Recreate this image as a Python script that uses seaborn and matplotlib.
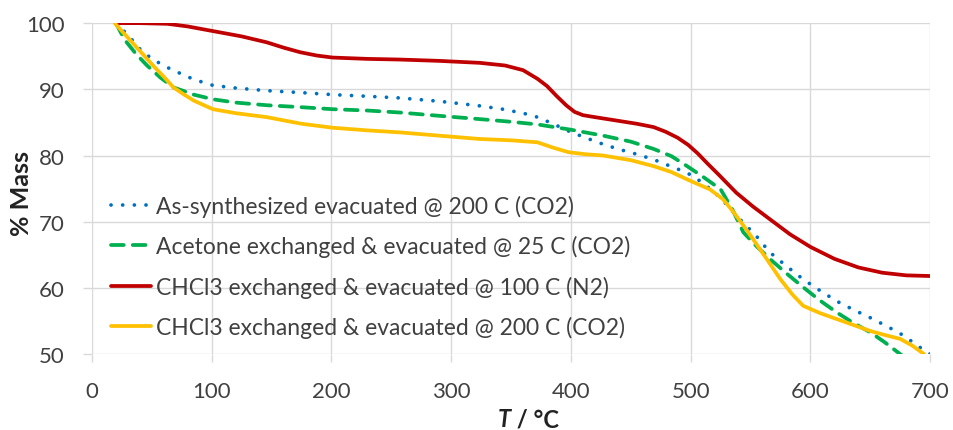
import matplotlib
matplotlib.use("Agg")
import matplotlib.pyplot as plt
import pandas as pd
import seaborn as sns

sns.set_theme(style="white")
plt.rcParams["font.family"] = ["Lato", "DejaVu Sans"]

TEXT = "#404040"
GRID = "#d9d9d9"

# thermogravimetric curves
as_syn_t = [20, 30, 40, 50, 63, 75, 85, 101, 120, 146, 175, 201, 230, 257, 290, 324, 343, 360,
            372, 385, 398, 412, 427, 441, 455, 469, 483, 497, 510, 525, 541, 555, 566, 580,
            594, 608, 622, 636, 650, 664, 678, 690, 700]
as_syn_m = [100, 98.2, 96.1, 94.6, 93.3, 92.3, 91.5, 90.6, 90.2, 89.8, 89.5, 89.2, 88.95, 88.7,
            88.2, 87.5, 87.0, 86.4, 85.8, 84.8, 83.7, 82.7, 81.7, 80.9, 80.2, 79.4, 78.4, 77.4,
            75.9, 73.6, 70.4, 67.8, 65.4, 63.3, 61.3, 59.6, 58.0, 56.7, 55.5, 54.2, 52.8, 51.2, 50.0]

acetone_t = [20, 24, 29, 37, 46, 57, 68, 85, 101, 120, 146, 175, 201, 230, 257, 290, 324, 350,
             372, 400, 427, 450, 469, 484, 497, 511, 525, 535, 544, 555, 566, 580, 594, 608,
             622, 636, 650, 662, 675, 685]
acetone_m = [100, 98.6, 97.1, 95.3, 93.6, 91.8, 90.3, 89.2, 88.5, 88.0, 87.6, 87.3, 87.0, 86.8,
             86.5, 86.0, 85.5, 85.1, 84.7, 83.9, 83.0, 82.1, 81.0, 79.9, 78.4, 76.7, 74.9,
             71.8, 68.4, 66.3, 64.4, 62.2, 60.1, 58.1, 56.3, 54.7, 53.3, 51.8, 50.0, 48.6]

chcl3_n2_t = [20, 40, 63, 80, 101, 125, 146, 160, 174, 188, 201, 230, 257, 290, 324, 345, 360,
              372, 380, 388, 396, 403, 410, 420, 441, 455, 469, 479, 489, 498, 506, 514, 524,
              538, 552, 566, 583, 600, 620, 640, 660, 680, 700]
chcl3_n2_m = [100, 100, 99.9, 99.5, 98.8, 98.0, 97.1, 96.3, 95.6, 95.1, 94.8, 94.6, 94.5, 94.3,
              94.0, 93.6, 92.9, 91.6, 90.5, 89.0, 87.6, 86.6, 86.1, 85.8, 85.2, 84.8, 84.3,
              83.6, 82.7, 81.6, 80.3, 78.8, 77.0, 74.4, 72.3, 70.4, 68.1, 66.2, 64.4, 63.1,
              62.3, 61.9, 61.8]

chcl3_co2_t = [19, 27, 35, 43, 51, 60, 68, 77, 85, 101, 120, 146, 175, 201, 230, 257, 290, 324,
               350, 372, 385, 398, 412, 427, 450, 469, 484, 497, 507, 516, 527, 536, 545, 552,
               563, 575, 585, 594, 608, 622, 636, 650, 662, 675, 685, 695]
chcl3_co2_m = [100, 98.4, 96.8, 95.2, 93.6, 91.9, 90.3, 89.2, 88.3, 87.0, 86.4, 85.8, 84.8,
               84.2, 83.8, 83.5, 83.0, 82.5, 82.3, 82.0, 81.2, 80.5, 80.2, 80.0, 79.3, 78.4,
               77.5, 76.4, 75.6, 74.9, 73.4, 71.4, 69.2, 67.4, 64.5, 61.3, 59.0, 57.3, 56.2,
               55.3, 54.4, 53.5, 52.9, 52.3, 51.3, 50.0]

labels = ["As-synthesized evacuated @ 200 C (CO2)",
          "Acetone exchanged & evacuated @ 25 C (CO2)",
          "CHCl3 exchanged & evacuated @ 100 C (N2)",
          "CHCl3 exchanged & evacuated @ 200 C (CO2)"]
colors = ["#0070C0", "#00B050", "#C00000", "#FFC000"]

series = [(as_syn_t, as_syn_m), (acetone_t, acetone_m), (chcl3_n2_t, chcl3_n2_m), (chcl3_co2_t, chcl3_co2_m)]
styles = [(0, (0.01, 3.1)), (0, (3.4, 2.4)), "-", "-"]

fig, ax = plt.subplots(figsize=(9.54, 4.31), dpi=100)
fig.subplots_adjust(left=0.0964, right=0.975, top=0.944, bottom=0.176)

for (t, m), lab, col, ls in zip(series, labels, colors, styles):
    df = pd.DataFrame({"T": t, "mass": m})
    sns.lineplot(data=df, x="T", y="mass", ax=ax, color=col, lw=2.7, label=lab,
                 linestyle=ls, dash_capstyle="round", solid_capstyle="round")

ax.set_xlim(0, 700)
ax.set_ylim(50, 100)
ax.set_xticks(range(0, 701, 100))
ax.set_yticks(range(50, 101, 10))
ax.grid(True, color=GRID, lw=1.0)
ax.set_axisbelow(True)
for s in ax.spines.values():
    s.set_visible(False)
ax.tick_params(axis="x", length=6, color=GRID, width=1, pad=13, labelsize=16, labelcolor=TEXT, bottom=True)
ax.tick_params(axis="y", length=6.5, color=GRID, width=1, pad=13, labelsize=16, labelcolor=TEXT, left=True)

ax.set_xlabel("")
ax.set_ylabel("")
fig.text(0.023, 0.55, "% Mass", fontsize=18, fontweight="bold", color="#222222",
         rotation=90, ha="center", va="center")

fig.text(0.536, 0.026, "T", fontsize=17, fontweight="bold", fontstyle="italic", color="#222222", ha="right", va="center")
fig.text(0.536, 0.026, " / °C", fontsize=17, fontweight="bold", color="#222222", ha="left", va="center")

leg = ax.legend(loc="upper left", bbox_to_anchor=(0.012, 0.509), frameon=False, fontsize=16.5,
                handlelength=1.75, handletextpad=0.2, labelspacing=0.8, borderaxespad=0)
for txt in leg.get_texts():
    txt.set_color(TEXT)

fig.savefig("out.png", dpi=100)
